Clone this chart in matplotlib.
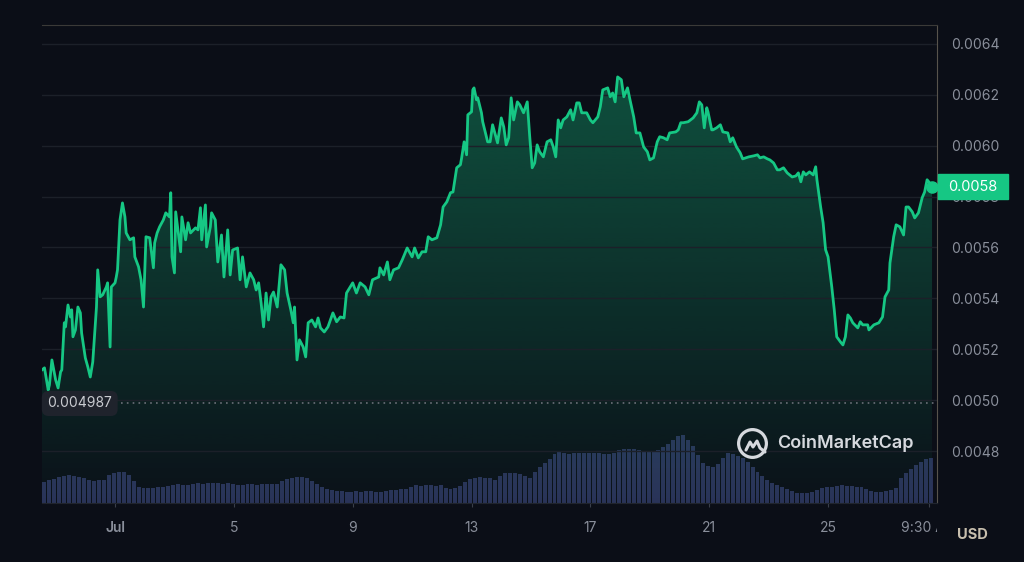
import numpy as np
import matplotlib
matplotlib.use("Agg")
import matplotlib.pyplot as plt
from matplotlib.patches import Polygon, Rectangle
from matplotlib.transforms import Bbox, TransformedBbox, blended_transform_factory

plt.rcParams['font.family'] = ['Inter', 'DejaVu Sans']

# price samples: hours since Jul 1 00:00 and price in millionths of USD
hours = [-59, -57, -54, -53, -51, -48, -46, -44, -43, -41, -40, -38, -36, -35, -34, -32, -30, -28, -27, -24,
         -22, -20, -18, -15, -14, -12, -10, -7, -6, -4, -3, 0, 1, 2, 4, 6, 8, 9, 12, 15,
         16, 19, 21, 23, 25, 28, 31, 32, 34, 36, 39, 41, 44, 45, 46, 48, 49, 53, 54, 57,
         59, 61, 65, 67, 69, 70, 73, 74, 77, 78, 81, 83, 86, 88, 91, 93, 95, 99, 101, 103,
         106, 109, 112, 114, 116, 118, 120, 122, 124, 126, 128, 131, 134, 137, 139, 142, 144, 145, 147, 149,
         152, 154, 156, 159, 162, 164, 166, 169, 172, 176, 179, 182, 185, 187, 192, 195, 198, 202, 205, 208,
         213, 214, 217, 220, 222, 225, 229, 232, 236, 240, 242, 245, 248, 251, 253, 256, 260, 263, 265, 268,
         271, 273, 276, 279, 280, 282, 284, 285, 288, 289, 290, 292, 293, 296, 297, 301, 303, 305, 309, 312,
         314, 316, 318, 320, 322, 325, 327, 330, 333, 335, 337, 339, 341, 343, 346, 349, 352, 354, 356, 358,
         360, 362, 365, 368, 370, 373, 375, 377, 381, 384, 386, 390, 392, 394, 398, 400, 402, 404, 406, 409,
         411, 414, 416, 419, 421, 424, 427, 430, 432, 435, 438, 440, 443, 446, 448, 453, 455, 457, 459, 463,
         467, 470, 472, 474, 476, 478, 479, 482, 483, 486, 489, 491, 495, 497, 499, 502, 505, 507, 512, 516,
         519, 521, 524, 527, 529, 532, 535, 537, 540, 543, 547, 550, 552, 554, 556, 558, 561, 564, 566, 567,
         570, 572, 574, 576, 579, 581, 583, 586, 588, 590, 592, 594, 596, 600, 602, 604, 608, 609, 613, 617,
         620, 622, 625, 626, 629, 631, 634, 637, 639, 641, 644, 646, 649, 652, 654, 656, 658, 660]
price_u = [5119, 5127, 5040, 5060, 5158, 5080, 5048, 5111, 5119, 5304, 5288, 5374, 5327, 5355, 5249, 5276, 5366, 5343, 5264, 5166,
           5131, 5091, 5150, 5366, 5512, 5406, 5414, 5445, 5461, 5209, 5445, 5461, 5484, 5512, 5708, 5775, 5720, 5657, 5630, 5638,
           5563, 5524, 5473, 5366, 5642, 5638, 5520, 5618, 5657, 5681, 5708, 5736, 5720, 5815, 5563, 5500, 5740, 5583, 5720, 5630,
           5697, 5657, 5677, 5669, 5756, 5630, 5767, 5602, 5681, 5736, 5708, 5543, 5649, 5484, 5669, 5492, 5590, 5598, 5473, 5563,
           5445, 5500, 5473, 5433, 5461, 5382, 5288, 5421, 5315, 5406, 5425, 5366, 5532, 5512, 5421, 5355, 5304, 5366, 5158, 5237,
           5209, 5170, 5304, 5315, 5288, 5323, 5284, 5268, 5288, 5343, 5308, 5327, 5323, 5421, 5461, 5421, 5461, 5445, 5414, 5473,
           5484, 5520, 5492, 5543, 5473, 5512, 5520, 5551, 5598, 5563, 5598, 5559, 5583, 5583, 5642, 5630, 5638, 5689, 5759, 5779,
           5815, 5818, 5913, 5925, 5952, 6015, 5964, 6121, 6133, 6219, 6227, 6180, 6188, 6129, 6094, 6015, 6015, 6082, 6011, 6109,
           6074, 6003, 6031, 6188, 6101, 6172, 6160, 6129, 6172, 6035, 5913, 5932, 6003, 5976, 5956, 6015, 6023, 5995, 5956, 6101,
           6070, 6101, 6113, 6141, 6101, 6168, 6168, 6129, 6129, 6101, 6090, 6113, 6153, 6219, 6227, 6192, 6207, 6172, 6270, 6259,
           6192, 6227, 6180, 6113, 6050, 6050, 5995, 5976, 5944, 5952, 6015, 6035, 6031, 6023, 6050, 6054, 6062, 6090, 6090, 6094,
           6109, 6129, 6172, 6160, 6070, 6149, 6133, 6062, 6062, 6070, 6082, 6054, 6050, 6015, 6031, 5995, 5972, 5948, 5956, 5960,
           5964, 5952, 5956, 5948, 5944, 5932, 5905, 5905, 5913, 5893, 5877, 5881, 5893, 5858, 5897, 5885, 5897, 5885, 5917, 5866,
           5759, 5697, 5591, 5563, 5445, 5355, 5249, 5229, 5217, 5249, 5335, 5323, 5304, 5284, 5308, 5296, 5296, 5276, 5296, 5304,
           5327, 5406, 5433, 5539, 5642, 5689, 5681, 5649, 5759, 5759, 5740, 5716, 5736, 5795, 5818, 5866, 5854, 5838]

# 4-hour volume bars (relative units), first bar starts at vol_start hours
vol_start = -59
volume = [21, 23, 24, 26, 27, 28, 27, 26, 25, 23, 22, 23, 23, 28, 30, 31, 31, 28, 22, 16,
          15, 15, 15, 16, 16, 17, 18, 19, 18, 18, 19, 20, 19, 20, 20, 20, 19, 20, 19, 18,
          18, 19, 19, 18, 19, 19, 19, 19, 22, 24, 25, 26, 26, 25, 22, 19, 16, 14, 13, 12,
          12, 11, 11, 12, 11, 12, 12, 11, 11, 12, 13, 13, 14, 14, 16, 18, 17, 18, 18, 17,
          18, 15, 14, 15, 17, 21, 24, 25, 26, 25, 25, 23, 27, 30, 30, 30, 29, 27, 25, 31,
          36, 40, 44, 49, 52, 50, 49, 50, 50, 50, 50, 50, 50, 49, 49, 50, 53, 54, 54, 54,
          53, 52, 51, 51, 53, 56, 59, 63, 67, 68, 63, 57, 48, 40, 37, 36, 39, 45, 50, 49,
          47, 45, 41, 36, 31, 27, 23, 20, 18, 16, 14, 12, 10, 10, 10, 11, 13, 15, 16, 16,
          17, 18, 17, 17, 16, 16, 14, 12, 11, 11, 12, 13, 15, 25, 30, 34, 38, 41, 44, 45]

tick_hours = [0, 96, 192, 288, 384, 480, 576, 657.5]
tick_labels = ['Jul', '5', '9', '13', '17', '21', '25', '9:30 AM']
price_ticks = [0.0048, 0.0050, 0.0052, 0.0054, 0.0056, 0.0058, 0.0060, 0.0062, 0.0064]
low_price = 0.004987
last_label = '0.0058'

bg = '#0b0e17'
green = '#16c784'
grey = '#8a8f9b'

hours = np.array(hours, dtype=float)
price = np.array(price_u) * 1e-6
assert len(hours) == len(price)

fig = plt.figure(figsize=(10.24, 5.62), dpi=100, facecolor=bg)
ax = fig.add_axes([42 / 1024, 59 / 562, 895 / 1024, 478 / 562])
ax.set_facecolor(bg)
xlim = (-59, 664)
ylim = (0.004596, 0.006474)

# volume bars on a twin axis (created first: twinx moves the main ticks left)
vax = ax.twinx()
vol_x = vol_start + 2 + 4 * np.arange(len(volume))
vax.bar(vol_x, volume, width=3.2, color='#2a3158', zorder=2)
vax.set_ylim(0, 478)
vax.set_yticks([])
for s in vax.spines.values():
    s.set_visible(False)

# gradient fill under the price line
verts = [(hours[0], ylim[0])] + list(zip(hours, price)) + [(hours[-1], ylim[0])]
poly = Polygon(verts, closed=True, facecolor='none', edgecolor='none')
ax.add_patch(poly)
grad = np.zeros((256, 1, 4))
grad[..., :3] = matplotlib.colors.to_rgb(green)
grad[:, 0, 3] = np.linspace(0.36, 0.02, 256)
im = ax.imshow(grad, extent=[hours[0], hours[-1], ylim[0], price.max()],
               origin='upper', aspect='auto', zorder=1, interpolation='bilinear')
im.set_clip_path(poly)

ax.plot(hours, price, color=green, lw=2, zorder=4, solid_joinstyle='round')
ax.plot(hours[-1], price[-1], 'o', ms=8, color=green, zorder=5)

ax.set_xlim(*xlim)
ax.set_ylim(*ylim)
ax.set_yticks(price_ticks)
ax.yaxis.tick_right()
ax.yaxis.set_label_position('right')
ax.yaxis.set_major_formatter(matplotlib.ticker.FormatStrFormatter('%.4f'))
ax.tick_params(axis='y', which='both', left=False, labelleft=False, right=False, labelright=True,
               length=0, pad=10, labelsize=10, labelcolor=grey)
ax.grid(axis='y', color='#1c2029', lw=1, zorder=0)
ax.set_xticks(tick_hours)
ax.set_xticklabels(tick_labels)
ax.tick_params(axis='x', length=3, color='#3a3f4a', pad=10, labelsize=10, labelcolor=grey)
ax.get_xticklabels()[0].set_fontweight('semibold')
clip = TransformedBbox(Bbox([[0, 0], [937 / 1024, 1]]), fig.transFigure)
lbl = ax.get_xticklabels()[-1]
lbl.set_clip_on(True)
lbl.set_clip_box(clip)

ax.spines['left'].set_visible(False)
ax.spines['top'].set_color('#3b3a38')
ax.spines['right'].set_color('#57534c')
ax.spines['bottom'].set_color('#20242d')
# keep the price axis above the volume axis so line and labels sit on top
ax.set_zorder(vax.get_zorder() + 1)
ax.patch.set_visible(False)
fig.patch.set_facecolor(bg)

# dotted line at period low with label
ax.axhline(low_price, xmin=0.088, xmax=1, color='#6b6f78', lw=1.2, ls=(0, (1, 2.5)), zorder=3)
ax.text(0.006, low_price, '0.004987', transform=blended_transform_factory(ax.transAxes, ax.transData),
        ha='left', va='center', fontsize=10, color='#c9cbd0', zorder=6,
        bbox=dict(boxstyle='round,pad=0.4,rounding_size=0.5', fc='#1f232c', ec='none'))

# current price tag
tr = blended_transform_factory(fig.transFigure, ax.transData)
box_h = 25 * (ylim[1] - ylim[0]) / 478
fig.patches.append(Rectangle((938 / 1024, price[-1] - box_h / 2), 70 / 1024, box_h,
                             transform=tr, color=green, zorder=5))
fig.text(973 / 1024, price[-1], last_label, transform=tr, ha='center', va='center',
         fontsize=10.5, color='white', zorder=6)

fig.text(972 / 1024, 1 - 535 / 562, 'USD', ha='center', va='center', fontsize=10.5,
         fontweight='bold', color='#c8bfae')

# watermark logo
logo_c = '#d6d9de'
ax.plot([0.7933], [0.1255], marker='o', ms=20, mfc='none', mec=logo_c, mew=2.3,
        transform=ax.transAxes, zorder=6)
mx = np.array([746, 750, 753, 757, 760, 765])
my = np.array([450, 442, 447, 441, 448, 452])
ax.plot((mx - 42) / 895, (503 - my) / 478, color=logo_c, lw=2.2, transform=ax.transAxes,
        zorder=6, solid_joinstyle='round', solid_capstyle='round')
ax.text((777 - 42) / 895, 0.1255, 'CoinMarketCap', transform=ax.transAxes, ha='left', va='center',
        fontsize=13, fontweight='semibold', color=logo_c, zorder=6)

fig.savefig('out.png', dpi=100, facecolor=bg)
